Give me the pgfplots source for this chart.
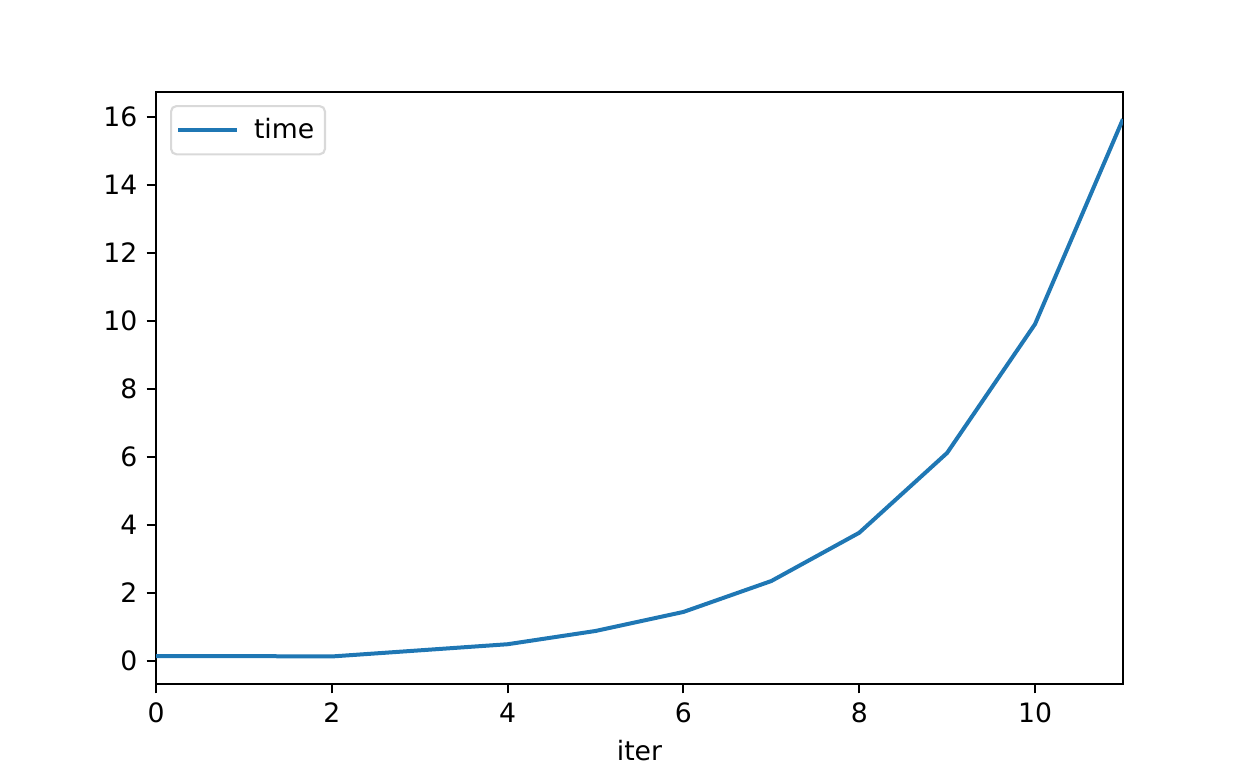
\documentclass[border=0pt]{standalone}
\usepackage{pgfplots}
\pgfplotsset{compat=1.18}
\usepackage{fontspec}
\setmainfont{DejaVu Sans}
\definecolor{tabblue}{HTML}{1F77B4}
\begin{document}
\begin{tikzpicture}
\path[use as bounding box] (0pt,0pt) rectangle (468pt,288pt);
\begin{axis}[
  at={(58.5pt,31.5pt)}, anchor=south west,
  scale only axis,
  width=362.6pt, height=222pt,
  xmin=0, xmax=11, ymin=-0.68, ymax=16.74,
  xtick={0,2,4,6,8,10}, ytick={0,2,4,6,8,10,12,14,16},
  tick align=outside, tick pos=left,
  major tick length=3.5pt,
  every tick/.style={black, line width=0.8pt},
  axis line style={line width=0.8pt},
  /pgf/number format/assume math mode=true,
  ticklabel style={font=\fontsize{10}{12}\selectfont},
  xlabel={iter}, xlabel style={font=\fontsize{10}{12}\selectfont, yshift=0.5pt},
  legend style={font=\fontsize{10}{12}\selectfont, draw=black!15, rounded corners=2pt, line width=0.8pt, at={(0.0145,0.978)}, anchor=north west, inner xsep=2pt, inner ysep=2.5pt},
  legend cell align=left,
  legend image code/.code={\draw[#1] (0cm,0cm) -- (0.77cm,0cm); \path (0.9cm,0cm);},
]
\addplot[tabblue, line width=1.5pt] coordinates {
(0,0.14) (1,0.14) (2,0.13) (3,0.31) (4,0.49) (5,0.88) (6,1.44) (7,2.35) (8,3.77) (9,6.12) (10,9.91) (11,15.94)
};
\addlegendentry{time}
\end{axis}
\end{tikzpicture}
\end{document}
